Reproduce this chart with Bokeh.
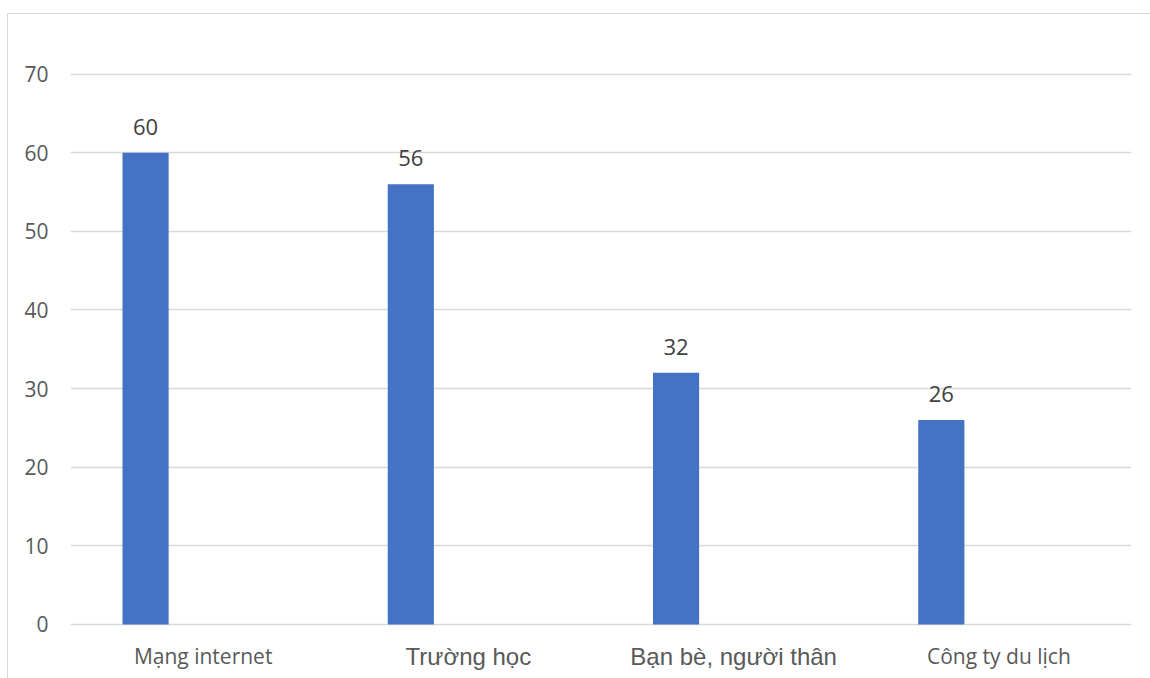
from bokeh.plotting import figure
from bokeh.models import ColumnDataSource, Range1d, FactorRange, SingleIntervalTicker
from bokeh.transform import dodge
from bokeh.core.properties import value
from bokeh.embed import file_html
from bokeh.resources import INLINE

categories = ["Mạng internet", "Trường học", "Bạn bè, người thân", "Công ty du lịch"]
values = [60, 56, 32, 26]
labels = [str(v) for v in values]

# the source draws categories 2 and 3 in a larger, Arial-like font
large_label_idx = [1, 2]

FONT = "Open Sans"
src = ColumnDataSource(dict(cat=categories, val=values, lab=labels))
small_cats = [c for i, c in enumerate(categories) if i not in large_label_idx]
large_cats = [c for i, c in enumerate(categories) if i in large_label_idx]
src_small = ColumnDataSource(dict(cat=small_cats, zero=[0] * len(small_cats)))
src_large = ColumnDataSource(dict(cat=large_cats, zero=[0] * len(large_cats)))

# frame extends below zero so that the category labels (drawn as text) stay inside it
p = figure(width=1143, height=665, x_range=FactorRange(*categories, range_padding=0),
           y_range=Range1d(-7.0, 70.2), output_backend="svg", toolbar_location=None,
           min_border_left=62, min_border_right=20, min_border_top=58, min_border_bottom=0)
p.margin = (13, 0, 0, 7)
p.styles = {"border-top": "1px solid #d9d9d9", "border-left": "1px solid #d9d9d9"}
p.outline_line_color = None
p.background_fill_color = "white"
p.border_fill_color = "white"

p.vbar(x=dodge("cat", -0.217, range=p.x_range), top="val", bottom=0, width=0.174,
       color="#4472C4", line_color=None, source=src)
p.text(x=dodge("cat", -0.217, range=p.x_range), y="val", text="lab", source=src,
       y_offset=-26, text_align="center", text_baseline="alphabetic",
       text_font=value(FONT), text_font_size=value("22px"), text_color="#404040")

# category labels below the baseline
p.text(x="cat", y="zero", text="cat", source=src_small, y_offset=32,
       text_align="center", text_baseline="alphabetic",
       text_font=value("Open Sans"), text_font_size=value("21px"), text_color="#595959")
p.text(x="cat", y="zero", text="cat", source=src_large, y_offset=32,
       text_align="center", text_baseline="alphabetic",
       text_font=value("Liberation Sans"), text_font_size=value("24px"), text_color="#595959")

p.yaxis.ticker = SingleIntervalTicker(interval=10)
p.yaxis.axis_line_color = None
p.yaxis.major_tick_line_color = None
p.yaxis.minor_tick_line_color = None
p.yaxis.major_label_standoff = 16
p.yaxis.major_label_text_font = FONT
p.yaxis.major_label_text_font_size = "21px"
p.yaxis.major_label_text_color = "#595959"

p.xaxis.visible = False

p.xgrid.grid_line_color = None
p.ygrid.grid_line_color = "#d9d9d9"
p.ygrid.grid_line_width = 1.5

open("out.html", "w").write(file_html(p, INLINE))
